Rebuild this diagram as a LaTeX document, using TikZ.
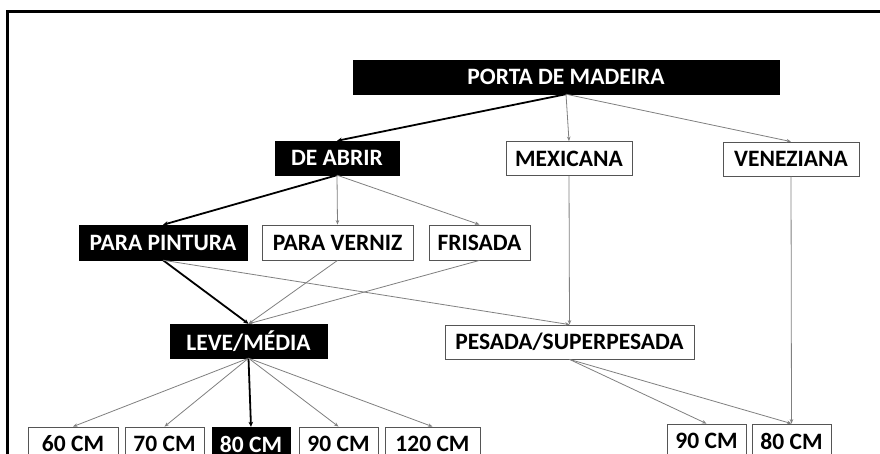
\documentclass[tikz,border=0pt]{standalone}
\usepackage{fontspec}
\setmainfont{Carlito}
\usetikzlibrary{arrows.meta}
\definecolor{edgegray}{RGB}{128,128,128}
\definecolor{boxline}{RGB}{85,85,85}
\tikzset{
  base/.style={rectangle, inner sep=0pt, minimum height=34pt, font=\fontsize{23.5}{25}\selectfont\bfseries, anchor=center},
  blackbox/.style={base, fill=black, draw=black, text=white},
  whitebox/.style={base, fill=white, draw=boxline, line width=0.8pt, text=black},
  grayarrow/.style={draw=edgegray, line width=0.8pt, -{Stealth[length=4.5pt,width=3.5pt]}},
  blackarrow/.style={draw=black, line width=1.8pt, -{Stealth[length=5pt,width=4.5pt]}},
}
\begin{document}
\begin{tikzpicture}[x=1pt,y=-1pt]
\clip (0,0) rectangle (880,454);
\fill[white] (0,0) rectangle (880,454);
\draw[line width=3pt, black] (7,12) rectangle (920,500);
% level 0
\node[blackbox, minimum width=426pt] (porta) at (566,77) {PORTA DE MADEIRA};
% level 1
\node[blackbox, minimum width=124pt] (abrir) at (337,158) {DE ABRIR};
\node[whitebox, minimum width=126pt] (mex) at (569,158.5) {MEXICANA};
\node[whitebox, minimum width=136pt] (ven) at (791,159) {VENEZIANA};
% level 2
\node[blackbox, minimum width=168pt, minimum height=35pt] (pint) at (163,242.5) {PARA PINTURA};
\node[whitebox, minimum width=151pt, minimum height=35pt] (vern) at (337.5,242.5) {PARA VERNIZ};
\node[whitebox, minimum width=101pt, minimum height=35pt] (fris) at (479.5,242.5) {FRISADA};
% level 3
\node[blackbox, minimum width=157pt] (leve) at (248.5,341) {LEVE/MÉDIA};
\node[whitebox, minimum width=249pt] (pes) at (569.5,342) {PESADA/SUPERPESADA};
% level 4
\node[whitebox, minimum width=90pt] (b60) at (73,444) {60 CM};
\node[whitebox, minimum width=79pt] (b70) at (164.5,444) {70 CM};
\node[blackbox, minimum width=78pt] (b80) at (251,444) {80 CM};
\node[whitebox, minimum width=79pt] (b90) at (338.5,444) {90 CM};
\node[whitebox, minimum width=95pt] (b120) at (432.5,444) {120 CM};
\node[whitebox, minimum width=79pt] (r90) at (706.5,441) {90 CM};
\node[whitebox, minimum width=79pt] (r80) at (791.5,441) {80 CM};
% edges
\draw[blackarrow] (porta.south) -- (abrir.north);
\draw[grayarrow] (porta.south) -- (mex.north);
\draw[grayarrow] (porta.south) -- (ven.north);
\draw[blackarrow] (abrir.south) -- (pint.north);
\draw[grayarrow] (abrir.south) -- (vern.north);
\draw[grayarrow] (abrir.south) -- (fris.north);
\draw[blackarrow] (pint.south) -- (leve.north);
\draw[grayarrow] (pint.south) -- (pes.north);
\draw[grayarrow] (vern.south) -- (leve.north);
\draw[grayarrow] (fris.south) -- (leve.north);
\draw[grayarrow] (mex.south) -- (pes.north);
\draw[grayarrow] (leve.south) -- (b60.north);
\draw[grayarrow] (leve.south) -- (b70.north);
\draw[blackarrow] (leve.south) -- (b80.north);
\draw[grayarrow] (leve.south) -- (b90.north);
\draw[grayarrow] (leve.south) -- (b120.north);
\draw[grayarrow] (pes.south) -- (r90.north);
\draw[grayarrow] (pes.south) -- (r80.north);
\draw[grayarrow] (ven.south) -- (r80.north);
\end{tikzpicture}
\end{document}
